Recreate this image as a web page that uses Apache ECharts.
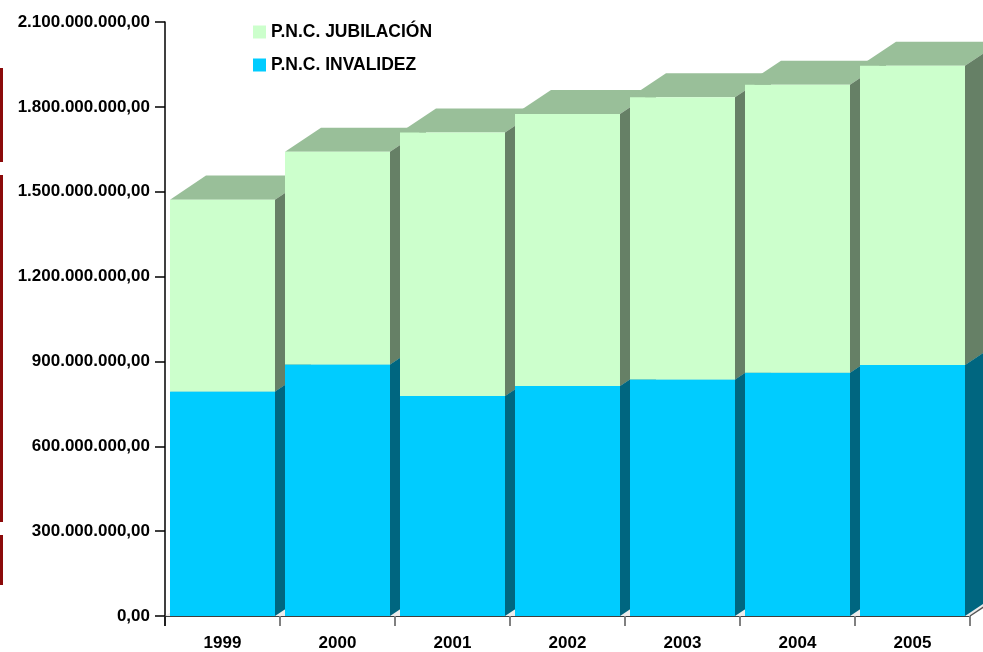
<!DOCTYPE html>
<html><head><meta charset="utf-8">
<script src="https://cdn.jsdelivr.net/npm/echarts@6/dist/echarts.min.js"></script>
<style>html,body{margin:0;padding:0;background:#fff}#c{width:983px;height:652px}</style>
</head><body><div id="c"></div>
<script>
const years = ['1999', '2000', '2001', '2002', '2003', '2004', '2005'];
const invalidez = [794e6, 889e6, 778e6, 813e6, 836e6, 860e6, 887e6];
const jubilacion = [678e6, 752e6, 931e6, 962e6, 998e6, 1018e6, 1058e6];
const yMin = 0, yMax = 2100e6, yStep = 300e6;

const FONT = "'Liberation Sans', Arial, sans-serif";

function fmt(v) {
  const s = Math.round(v).toString().replace(/\B(?=(\d{3})+(?!\d))/g, '.');
  return s + ',00';
}

function makeRender(front, side, top, layer) {
  return function (params, api) {
    const i = api.value(0), base = api.value(1), topV = api.value(2);
    const band = api.size([1, 0])[0];
    const w = band * 0.913;
    const dx = band * 0.313, dy = -band * 0.209;
    const p0 = api.coord([i, base]);
    const p1 = api.coord([i, topV]);
    const xl = p0[0] - w / 2, xr = p0[0] + w / 2, yb = p0[1], yt = p1[1];
    const z = 10 + i * 10 + layer * 3;
    return {
      type: 'group',
      children: [
        { type: 'polygon', z2: z, shape: { points: [[xl, yt], [xr, yt], [xr + dx, yt + dy], [xl + dx, yt + dy]] }, style: { fill: top } },
        { type: 'polygon', z2: z + 1, shape: { points: [[xr, yb], [xr + dx, yb + dy], [xr + dx, yt + dy], [xr, yt]] }, style: { fill: side } },
        { type: 'rect', z2: z + 2, shape: { x: xl, y: yt, width: w, height: yb - yt }, style: { fill: front } }
      ]
    };
  };
}

const invData = years.map((y, i) => [i, 0, invalidez[i]]);
const jubData = years.map((y, i) => [i, invalidez[i], invalidez[i] + jubilacion[i]]);

const chart = echarts.init(document.getElementById('c'));
chart.setOption({
  backgroundColor: '#fff',
  animation: false,
  grid: { left: 165, top: 22, right: 13, bottom: 35, containLabel: false },
  legend: {
    data: ['P.N.C. JUBILACIÓN', 'P.N.C. INVALIDEZ'],
    orient: 'vertical', left: 248, top: 18,
    itemWidth: 13, itemHeight: 13, itemGap: 15, icon: 'rect',
    textStyle: { fontFamily: FONT, fontWeight: 'bold', fontSize: 17.5, color: '#000' }
  },
  xAxis: {
    type: 'category', data: years, boundaryGap: true,
    axisLine: { lineStyle: { color: '#000', width: 1.5 } },
    axisTick: { show: true, length: 10, lineStyle: { color: '#808080', width: 2 } },
    axisLabel: { margin: 19, fontFamily: FONT, fontWeight: 'bold', fontSize: 17, color: '#000' },
    splitLine: { show: false }
  },
  yAxis: {
    type: 'value', min: yMin, max: yMax, interval: yStep,
    axisLine: { show: true, lineStyle: { color: '#000', width: 1.5 } },
    axisTick: { show: true, length: 10, lineStyle: { color: '#000', width: 1.5 } },
    axisLabel: { margin: 15, fontFamily: FONT, fontWeight: 'bold', fontSize: 17, color: '#000', formatter: fmt },
    splitLine: { show: false }
  },
  graphic: [
    { type: 'rect', left: 0, top: 68, shape: { width: 3, height: 94 }, style: { fill: '#8b0a0a' } },
    { type: 'rect', left: 0, top: 175, shape: { width: 3, height: 347 }, style: { fill: '#8b0a0a' } },
    { type: 'rect', left: 0, top: 535, shape: { width: 3, height: 50 }, style: { fill: '#8b0a0a' } }
  ],
  series: [
    {
      name: 'floor', type: 'custom', data: [[0]], silent: true,
      renderItem: function (params, api) {
        const band = api.size([1, 0])[0];
        const dx = band * 0.313, dy = -band * 0.209;
        const a = api.coord([0, 0]), b = api.coord([years.length - 1, 0]);
        const xl = a[0] - band / 2, xr = b[0] + band / 2, y = a[1];
        return {
          type: 'group', children: [
            { type: 'polygon', z2: 1, shape: { points: [[xl, y], [xr, y], [xr + dx, y + dy], [xl + dx, y + dy]] }, style: { fill: '#ececec' } },
            { type: 'line', z2: 200, shape: { x1: xr, y1: y, x2: xr + dx, y2: y + dy }, style: { stroke: '#555', lineWidth: 1.5 } },
            { type: 'line', z2: 200, shape: { x1: xl, y1: y, x2: xl, y2: y + 10 }, style: { stroke: '#000', lineWidth: 1.5 } }
          ]
        };
      }
    },
    {
      name: 'P.N.C. INVALIDEZ', type: 'custom', data: invData,
      itemStyle: { color: '#00ccff' },
      encode: { x: 0, y: [1, 2] },
      renderItem: makeRender('#00ccff', '#006680', '#0099bf', 0)
    },
    {
      name: 'P.N.C. JUBILACIÓN', type: 'custom', data: jubData,
      itemStyle: { color: '#ccffcc' },
      encode: { x: 0, y: [1, 2] },
      renderItem: makeRender('#ccffcc', '#668066', '#99bf99', 1)
    }
  ]
});
</script>
</body></html>
